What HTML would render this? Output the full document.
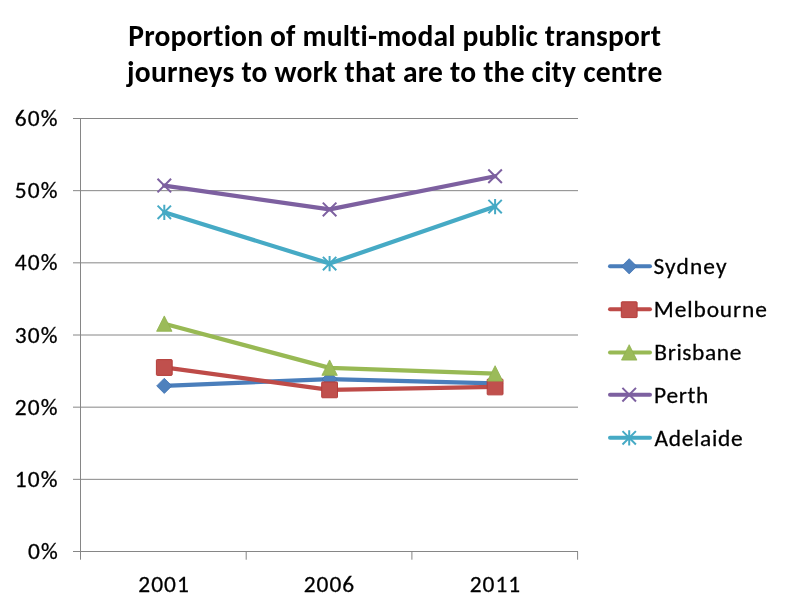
<!DOCTYPE html>
<html><head><meta charset="utf-8"><title>Proportion of multi-modal public transport journeys to work that are to the city centre</title>
<style>
html,body{margin:0;padding:0;background:#fff;}
body{width:790px;height:613px;overflow:hidden;}
svg{display:block;will-change:transform;}
text{font-family:Carlito,Calibri,"Liberation Sans",sans-serif;fill:#000;font-variant-ligatures:none;font-feature-settings:"liga" 0,"clig" 0;}
.ax{font-size:23.4px;stroke:#000;stroke-width:0.28px;}
.ti{font-size:29.5px;font-weight:bold;}
.g{stroke:#868686;stroke-width:1;}
</style></head><body>
<svg width="790" height="613" viewBox="0 0 790 613">

<line x1="73" y1="118.50" x2="578.0" y2="118.50" class="g"/>
<line x1="73" y1="190.67" x2="578.0" y2="190.67" class="g"/>
<line x1="73" y1="262.83" x2="578.0" y2="262.83" class="g"/>
<line x1="73" y1="335.00" x2="578.0" y2="335.00" class="g"/>
<line x1="73" y1="407.17" x2="578.0" y2="407.17" class="g"/>
<line x1="73" y1="479.33" x2="578.0" y2="479.33" class="g"/>
<line x1="73" y1="551.50" x2="578.0" y2="551.50" class="g"/>
<line x1="80.5" y1="118.0" x2="80.5" y2="559.7" class="g"/>
<line x1="246.20" y1="551.5" x2="246.20" y2="559.7" class="g"/>
<line x1="411.90" y1="551.5" x2="411.90" y2="559.7" class="g"/>
<line x1="577.60" y1="551.5" x2="577.60" y2="559.7" class="g"/>
<path d="M164.30 385.88L329.60 379.02L495.10 383.35" fill="none" stroke="#4A7EBB" stroke-width="4.25" stroke-linejoin="round" stroke-linecap="round"/>
<path d="M156.70 385.88L164.30 378.28L171.90 385.88L164.30 393.48Z" fill="#4F81BD" stroke="#3F72B3" stroke-width="0.8" stroke-linejoin="round"/>
<path d="M322.00 379.02L329.60 371.42L337.20 379.02L329.60 386.62Z" fill="#4F81BD" stroke="#3F72B3" stroke-width="0.8" stroke-linejoin="round"/>
<path d="M487.50 383.35L495.10 375.75L502.70 383.35L495.10 390.95Z" fill="#4F81BD" stroke="#3F72B3" stroke-width="0.8" stroke-linejoin="round"/>
<path d="M164.30 367.48L329.60 389.85L495.10 386.96" fill="none" stroke="#BE4B48" stroke-width="4.25" stroke-linejoin="round" stroke-linecap="round"/>
<rect x="156.40" y="359.58" width="15.8" height="15.8" rx="0.8" fill="#C0504D" stroke="#B43D3A" stroke-width="1"/>
<rect x="321.70" y="381.95" width="15.8" height="15.8" rx="0.8" fill="#C0504D" stroke="#B43D3A" stroke-width="1"/>
<rect x="487.20" y="379.06" width="15.8" height="15.8" rx="0.8" fill="#C0504D" stroke="#B43D3A" stroke-width="1"/>
<path d="M164.30 323.81L329.60 367.84L495.10 373.61" fill="none" stroke="#98B954" stroke-width="4.25" stroke-linejoin="round" stroke-linecap="round"/>
<path d="M164.30 315.91L172.00 331.31L156.60 331.31Z" fill="#9BBB59" stroke="#8FB14E" stroke-width="0.8" stroke-linejoin="round"/>
<path d="M329.60 359.94L337.30 375.34L321.90 375.34Z" fill="#9BBB59" stroke="#8FB14E" stroke-width="0.8" stroke-linejoin="round"/>
<path d="M495.10 365.71L502.80 381.11L487.40 381.11Z" fill="#9BBB59" stroke="#8FB14E" stroke-width="0.8" stroke-linejoin="round"/>
<path d="M164.30 185.61L329.60 209.43L495.10 176.23" fill="none" stroke="#7D60A0" stroke-width="4.25" stroke-linejoin="round" stroke-linecap="round"/>
<path d="M157.50 178.81L171.10 192.41M171.10 178.81L157.50 192.41" stroke="#7D60A0" stroke-width="2" fill="none"/>
<path d="M322.80 202.63L336.40 216.23M336.40 202.63L322.80 216.23" stroke="#7D60A0" stroke-width="2" fill="none"/>
<path d="M488.30 169.43L501.90 183.03M501.90 169.43L488.30 183.03" stroke="#7D60A0" stroke-width="2" fill="none"/>
<path d="M164.30 212.32L329.60 263.56L495.10 206.54" fill="none" stroke="#46AAC5" stroke-width="4.25" stroke-linejoin="round" stroke-linecap="round"/>
<path d="M157.60 205.62L171.00 219.02M171.00 205.62L157.60 219.02M164.30 204.72L164.30 219.92" stroke="#46AAC5" stroke-width="2" fill="none"/>
<path d="M322.90 256.86L336.30 270.25M336.30 256.86L322.90 270.25M329.60 255.96L329.60 271.16" stroke="#46AAC5" stroke-width="2" fill="none"/>
<path d="M488.40 199.84L501.80 213.24M501.80 199.84L488.40 213.24M495.10 198.94L495.10 214.14" stroke="#46AAC5" stroke-width="2" fill="none"/>
<line x1="610" y1="266.3" x2="650" y2="266.3" stroke="#4A7EBB" stroke-width="4" stroke-linecap="round"/>
<path d="M621.60 266.30L629.20 258.70L636.80 266.30L629.20 273.90Z" fill="#4F81BD" stroke="#3F72B3" stroke-width="0.8" stroke-linejoin="round"/>
<line x1="610" y1="309.2" x2="650" y2="309.2" stroke="#BE4B48" stroke-width="4" stroke-linecap="round"/>
<rect x="621.30" y="301.80" width="15.8" height="15.8" rx="0.8" fill="#C0504D" stroke="#B43D3A" stroke-width="1"/>
<line x1="610" y1="352.6" x2="650" y2="352.6" stroke="#98B954" stroke-width="4" stroke-linecap="round"/>
<path d="M629.20 344.70L636.90 360.10L621.50 360.10Z" fill="#9BBB59" stroke="#8FB14E" stroke-width="0.8" stroke-linejoin="round"/>
<line x1="610" y1="394.7" x2="650" y2="394.7" stroke="#7D60A0" stroke-width="4" stroke-linecap="round"/>
<path d="M622.40 387.90L636.00 401.50M636.00 387.90L622.40 401.50" stroke="#7D60A0" stroke-width="2" fill="none"/>
<line x1="610" y1="437.8" x2="650" y2="437.8" stroke="#46AAC5" stroke-width="4" stroke-linecap="round"/>
<path d="M622.50 431.10L635.90 444.50M635.90 431.10L622.50 444.50M629.20 430.20L629.20 445.40" stroke="#46AAC5" stroke-width="2" fill="none"/>
<text class="ti" x="128.24" y="45.60" textLength="532.77" lengthAdjust="spacing">Proportion of multi-modal public transport</text>
<text class="ti" x="127.08" y="81.60" textLength="535.16" lengthAdjust="spacing">journeys to work that are to the city centre</text>
<text class="ax" x="14.77" y="126.00" textLength="42.74" lengthAdjust="spacing">60%</text>
<text class="ax" x="14.77" y="198.17" textLength="42.74" lengthAdjust="spacing">50%</text>
<text class="ax" x="14.77" y="270.33" textLength="42.74" lengthAdjust="spacing">40%</text>
<text class="ax" x="14.77" y="342.50" textLength="42.74" lengthAdjust="spacing">30%</text>
<text class="ax" x="14.77" y="414.67" textLength="42.74" lengthAdjust="spacing">20%</text>
<text class="ax" x="14.77" y="486.83" textLength="42.74" lengthAdjust="spacing">10%</text>
<text class="ax" x="27.92" y="559.00" textLength="29.73" lengthAdjust="spacing">0%</text>
<text class="ax" x="138.36" y="591.70" textLength="50.42" lengthAdjust="spacing">2001</text>
<text class="ax" x="303.70" y="591.70" textLength="50.42" lengthAdjust="spacing">2006</text>
<text class="ax" x="469.71" y="591.70" textLength="50.42" lengthAdjust="spacing">2011</text>
<text class="ax" x="653.52" y="273.80" textLength="73.04" lengthAdjust="spacing">Sydney</text>
<text class="ax" x="653.87" y="316.50" textLength="112.96" lengthAdjust="spacing">Melbourne</text>
<text class="ax" x="654.34" y="359.50" textLength="87.00" lengthAdjust="spacing">Brisbane</text>
<text class="ax" x="654.12" y="402.60" textLength="54.18" lengthAdjust="spacing">Perth</text>
<text class="ax" x="654.45" y="445.60" textLength="88.18" lengthAdjust="spacing">Adelaide</text>
</svg>
</body></html>
